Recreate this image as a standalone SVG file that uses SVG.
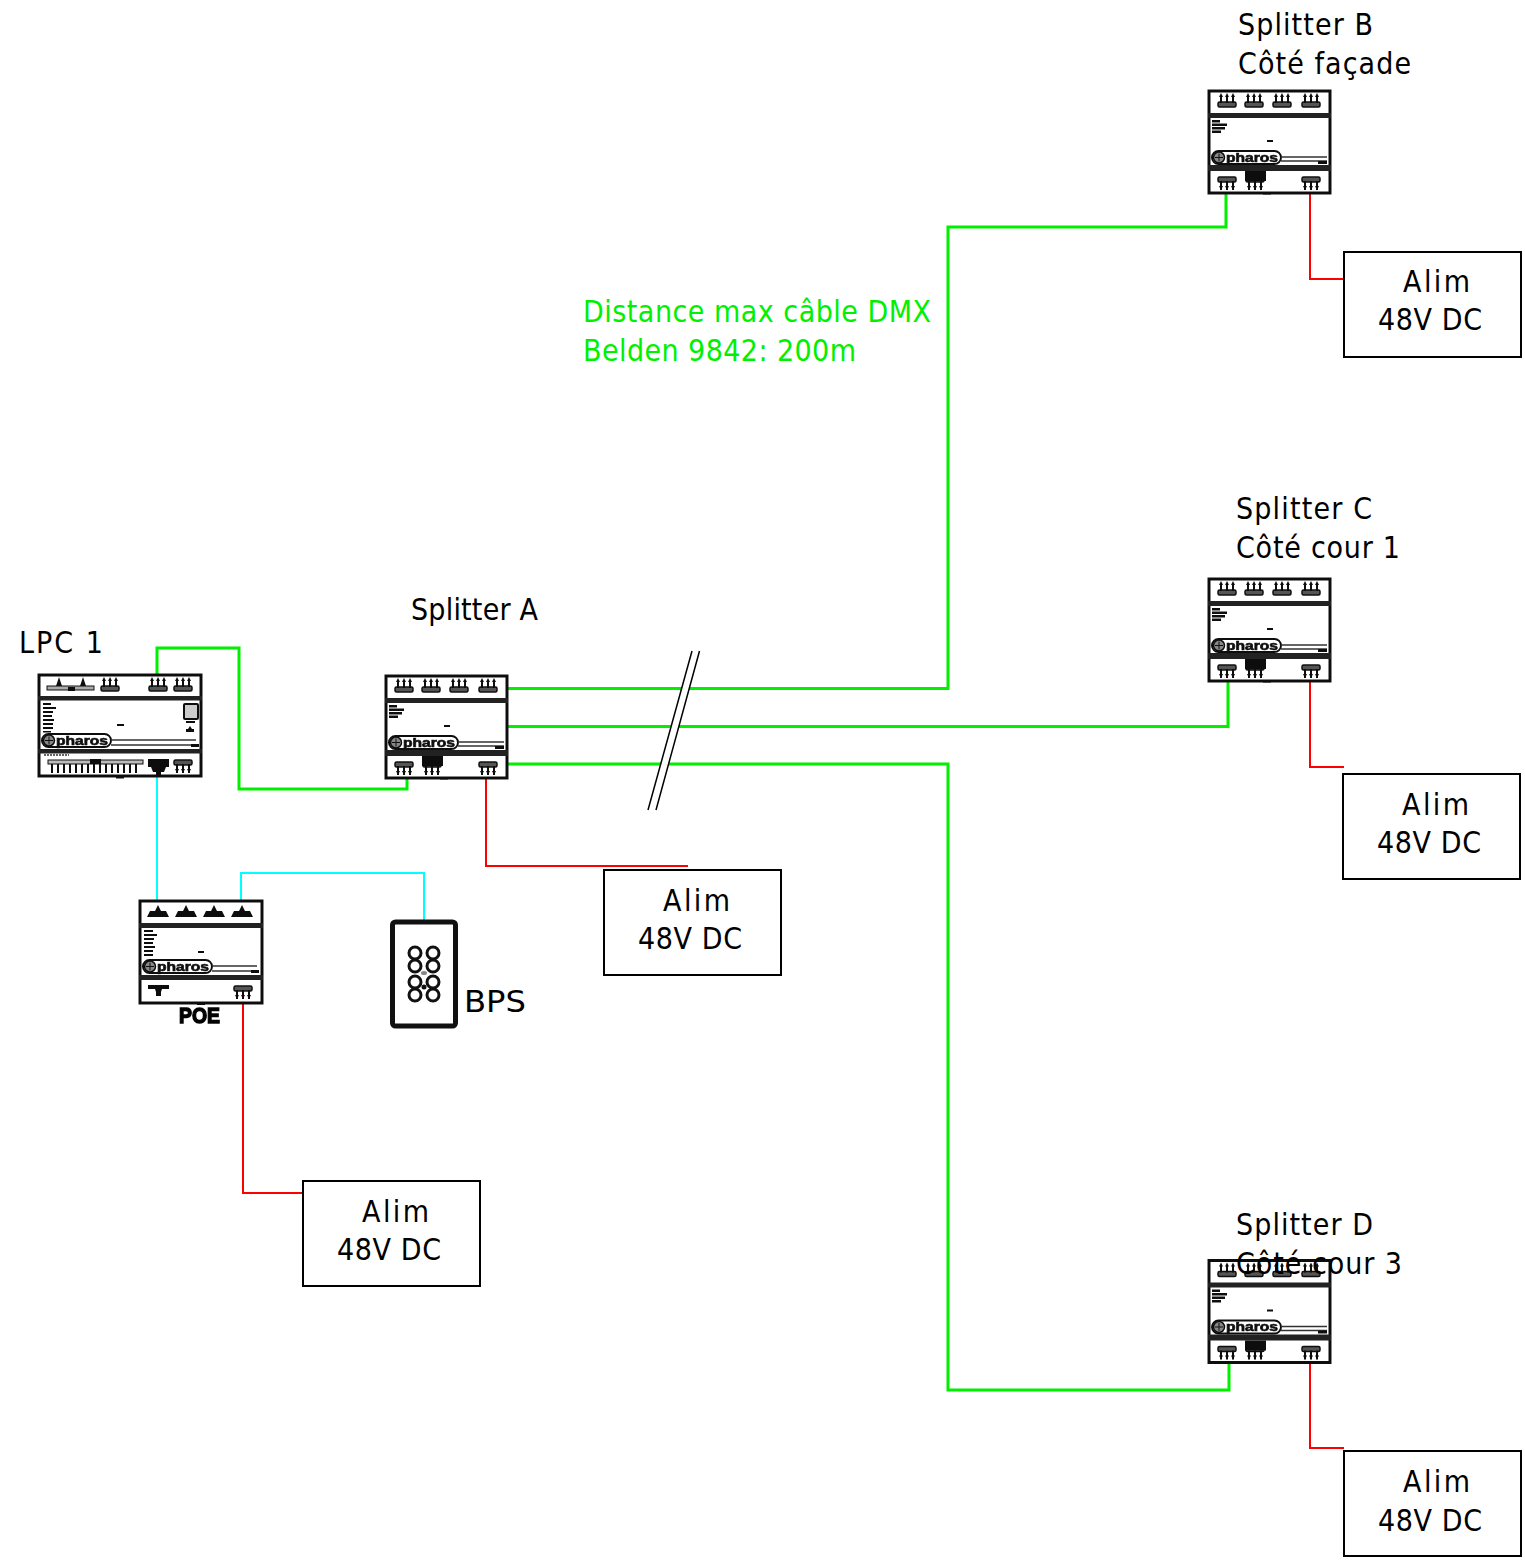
<svg xmlns="http://www.w3.org/2000/svg" width="1525" height="1562" viewBox="0 0 1525 1562">
<style>
text{font-family:"DejaVu Sans Condensed","DejaVu Sans",sans-serif;font-stretch:condensed;font-size:30px;fill:#000}
.g{fill:none;stroke:#00f000;stroke-width:3}
.r{fill:none;stroke:#ff0000;stroke-width:2}
.c{fill:none;stroke:#00ffff;stroke-width:2}
.box{fill:#fff;stroke:#000;stroke-width:2}
text.dmx{fill:#00f000}
.body{fill:#fff;stroke:#111;stroke-width:3}
.band{fill:#222}
.thin{fill:none;stroke:#333;stroke-width:1.500}
.ink{fill:#111}
.art{filter:url(#soft)}
text.logo{font-family:"Liberation Sans",sans-serif;font-size:12px;font-weight:700;fill:#111;stroke:#111;stroke-width:.6}
text.poe{font-family:"Liberation Sans",sans-serif;font-size:22px;font-weight:700;fill:#000;stroke:#000;stroke-width:1.400}
</style>
<defs>
<filter id="soft" x="-5%" y="-5%" width="110%" height="110%"><feGaussianBlur stdDeviation="0.5"/></filter>
<g id="termUp"><rect x="-9" y="4" width="18" height="5" rx="1.500" fill="#555" stroke="#111" stroke-width="1.500"/><path d="M-6 5V-2M0 5V-2M6 5V-2" stroke="#111" stroke-width="2"/><path d="M-8-1l2-4 2 4zM-2-1l2-4 2 4zM4-1l2-4 2 4z" fill="#111"/></g>
<g id="termDown"><rect x="-9" y="-5" width="18" height="5" rx="1.500" fill="#555" stroke="#111" stroke-width="1.500"/><path d="M-6-1V8M0-1V8M6-1V8" stroke="#111" stroke-width="2"/><path d="M-8 4l2 4 2-4zM-2 4l2 4 2-4zM4 4l2 4 2-4z" fill="#111"/></g>
<g id="logo">
<rect x="0" y="0" width="69" height="13" rx="6.500" fill="#fff" stroke="#111" stroke-width="2"/>
<circle cx="7" cy="6.500" r="5.500" fill="#888" stroke="#111" stroke-width="1.500"/>
<path d="M3 6.500h8M7 2.500v8" stroke="#111"/>
<text class="logo" x="14" y="10.500" textLength="52" lengthAdjust="spacingAndGlyphs">pharos</text>
</g>
<g id="face">
<rect class="band" x="0" y="23" width="123" height="5"/>
<rect class="band" x="0" y="75" width="123" height="6"/>
<path class="ink" d="M4 30h8v2.500h-8zM4 33.500h15v2.500h-15zM4 37h13v2.500h-13zM4 40.500h9v2.500h-9z"/>
<rect class="ink" x="59" y="50" width="6" height="2"/>
<use href="#logo" x="4" y="61"/>
<path class="thin" d="M73 67h46M73 71h46"/>
<rect class="ink" x="110" y="71" width="9" height="3"/>
<rect class="ink" x="55" y="102.500" width="8" height="2"/>
</g>
<g id="spl">
<rect class="body" x="1" y="1" width="121" height="102"/>
<use href="#face"/>
<use href="#termUp" x="19" y="8"/><use href="#termUp" x="46" y="8"/><use href="#termUp" x="74" y="8"/><use href="#termUp" x="103" y="8"/>
<use href="#termDown" x="19" y="92"/><use href="#termDown" x="47" y="92"/><rect class="ink" x="37" y="81" width="21" height="10"/><use href="#termDown" x="103" y="92"/>
</g>
</defs>

<g id="connectors">
<path class="g" d="M157 674V648H239V789H407V778"/>
<path class="g" d="M507 688.500H948V227H1226V194"/>
<path class="g" d="M507 726.500H1228V681"/>
<path class="g" d="M507 764H948V1390H1229V1363"/>
<path class="r" d="M486 779V866H688"/>
<path class="r" d="M1310 194V279H1344"/>
<path class="r" d="M1310 681V767H1344"/>
<path class="r" d="M1310 1363V1448H1344"/>
<path class="r" d="M243 1003V1193H303"/>
<path class="c" d="M157 777V900"/>
<path class="c" d="M241 900V873H424V920"/>
<path d="M692 651L648 810H656L699.500 651Z" fill="#fff"/>
<path d="M692 651L648 810M699.500 651L656 810" fill="none" stroke="#000" stroke-width="1.500"/>
</g>

<g id="splitter-b"><use class="art" href="#spl" x="1208" y="90"/><text x="1238" y="35" textLength="135">Splitter B</text><text x="1238" y="74" textLength="173">Côté façade</text></g>
<g id="splitter-c"><use class="art" href="#spl" x="1208" y="578"/><text x="1236" y="519" textLength="136">Splitter C</text><text x="1236" y="558" textLength="164">Côté cour 1</text></g>
<g id="splitter-d"><use class="art" href="#spl" x="1208" y="1259.500"/><text x="1236" y="1235" textLength="137">Splitter D</text><text x="1236" y="1274" textLength="166">Côté cour 3</text></g>
<g id="splitter-a">
<use class="art" href="#spl" x="385" y="675"/>
<text x="411" y="620" textLength="127">Splitter A</text>
</g>

<g id="lpc-1">
<g class="art">
<rect class="body" x="39" y="675" width="162" height="101"/>
<rect class="band" x="38" y="696" width="164" height="4.500"/>
<rect class="band" x="38" y="749" width="164" height="4.500"/>
<path class="ink" d="M43 703h8v2h-8zM43 707h13v2h-13zM43 711h10v2h-10zM43 715h9v2h-9zM43 719h11v2h-11zM43 723h10v2h-10zM43 727h10v2h-10zM43 731h8v1.500h-8z"/>
<rect class="ink" x="117" y="724" width="7" height="2"/>
<use href="#logo" x="42" y="734"/>
<path class="thin" d="M111 740h85M111 745h85"/>
<rect class="ink" x="191" y="744" width="8" height="3"/>
<rect x="184" y="704" width="14" height="15" rx="1" fill="#ccc" stroke="#111" stroke-width="2"/>
<path class="ink" d="M186 721h9v2h-9zM188 729l2-3 2 3h2v3h-8v-3z"/>
<rect x="47" y="686" width="47" height="4" fill="#aaa" stroke="#111"/><rect class="ink" x="68" y="687" width="7" height="4"/>
<path class="ink" d="M59 677l3 9h-6zM83 677l3 9h-6z"/>
<use href="#termUp" x="110" y="682"/><use href="#termUp" x="158" y="682"/><use href="#termUp" x="183" y="682"/>
<rect x="48" y="760" width="95" height="4" fill="#bbb" stroke="#111"/><rect class="ink" x="90" y="759" width="11" height="5"/>
<path class="thin" d="M44 755h25" stroke-dasharray="2 1"/>
<path d="M52 764v9M58 764v9M64 764v9M70 764v9M76 764v9M82 764v9M88 764v9M94 764v9M100 764v9M106 764v9M112 764v9M118 764v9M124 764v9M130 764v9M136 764v9" stroke="#111" stroke-width="2"/>
<path class="ink" d="M148 759h21v8h-3l-2 5h-3v3h-5v-3h-3l-2-5h-3z"/>
<use href="#termDown" x="183" y="765"/>
<rect class="ink" x="116" y="776.500" width="8" height="2"/>
</g>
<text x="19" y="653" textLength="84">LPC 1</text>
</g>

<g id="poe" class="art">
<rect class="body" x="140" y="901" width="122" height="102"/>
<rect class="band" x="139" y="923" width="124" height="5"/>
<rect class="band" x="139" y="975" width="124" height="5"/>
<path class="ink" d="M144 930h9v2h-9zM144 934h13v2h-13zM144 938h10v2h-10zM144 942h9v2h-9zM144 946h11v2h-11zM144 950h9v2h-9zM144 954h9v2h-9z"/>
<rect class="ink" x="198" y="951" width="6" height="2"/>
<use href="#logo" x="143" y="960"/>
<path class="thin" d="M212 966h45M212 971h45"/>
<rect class="ink" x="251" y="970" width="8" height="3"/>
<path class="ink" d="M158 905l3 6h5l3 6h-22l3-6h5zM186 905l3 6h5l3 6h-22l3-6h5zM214 905l3 6h5l3 6h-22l3-6h5zM242 905l3 6h5l3 6h-22l3-6h5z"/>
<path class="ink" d="M148 985h21v4h-7l-1 3v4h-5v-4l-1-3h-7z"/>
<use href="#termDown" x="243" y="991"/>
<rect class="ink" x="197" y="1003" width="8" height="2"/>
<text class="poe" x="179" y="1023" textLength="41" lengthAdjust="spacingAndGlyphs">POE</text>
</g>

<g id="bps">
<rect x="392.500" y="922" width="63" height="104" rx="3" fill="#fff" stroke="#111" stroke-width="5"/>
<g fill="none" stroke="#111" stroke-width="3"><circle cx="415" cy="953" r="6"/><circle cx="433" cy="953" r="6"/><circle cx="415" cy="966" r="6"/><circle cx="433" cy="966" r="6"/><circle cx="415" cy="982" r="6"/><circle cx="433" cy="982" r="6"/><circle cx="415" cy="995" r="6"/><circle cx="433" cy="995" r="6"/></g>
<ellipse cx="424" cy="973" rx="3" ry="2" fill="#888"/><circle cx="424" cy="987" r="2.500" fill="#111"/>
<text x="464" y="1012" textLength="62" lengthAdjust="spacingAndGlyphs">BPS</text>
</g>

<g id="alim-1"><rect class="box" x="1344" y="252" width="177" height="105"/><text x="1403" y="292" textLength="67">Alim</text><text x="1378" y="330" textLength="104">48V DC</text></g>
<g id="alim-2"><rect class="box" x="1343" y="774" width="177" height="105"/><text x="1402" y="815" textLength="67">Alim</text><text x="1377" y="853" textLength="104">48V DC</text></g>
<g id="alim-3"><rect class="box" x="604" y="870" width="177" height="105"/><text x="663" y="911" textLength="67">Alim</text><text x="638" y="949" textLength="104">48V DC</text></g>
<g id="alim-4"><rect class="box" x="303" y="1181" width="177" height="105"/><text x="362" y="1222" textLength="67">Alim</text><text x="337" y="1260" textLength="104">48V DC</text></g>
<g id="alim-5"><rect class="box" x="1344" y="1451" width="177" height="105"/><text x="1403" y="1492" textLength="67">Alim</text><text x="1378" y="1531" textLength="104">48V DC</text></g>

<g id="dmx-label"><text class="dmx" x="583" y="322" textLength="348">Distance max câble DMX</text><text class="dmx" x="583" y="361" textLength="273">Belden 9842: 200m</text></g>
</svg>
